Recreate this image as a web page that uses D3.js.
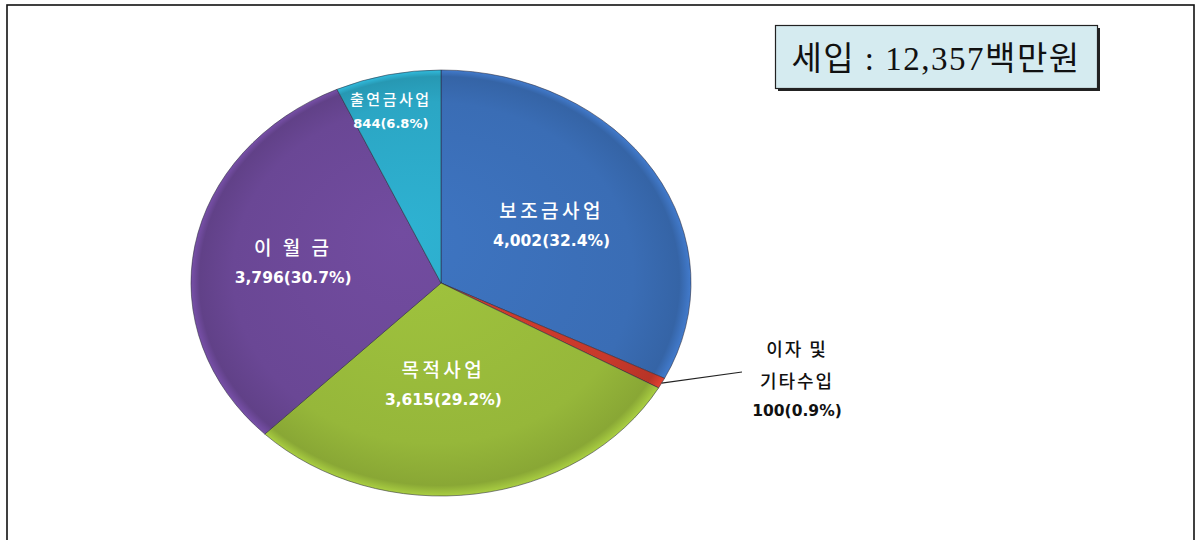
<!DOCTYPE html>
<html><head><meta charset="utf-8">
<script src="https://cdn.jsdelivr.net/npm/d3@7"></script>
<style>
html,body{margin:0;padding:0;background:#fff;}
svg{display:block;}
</style></head>
<body>
<svg id="chart" width="1195" height="540"></svg>
<script>
// ---- data ----
const categories = ["보조금사업", "이자 및 기타수입", "목적사업", "이 월 금", "출연금사업"];
const values = [4002, 100, 3615, 3796, 844];
const percents = ["32.4%", "0.9%", "29.2%", "30.7%", "6.8%"];
const colors = ["#3a6db5", "#c8392b", "#96b73a", "#6a4795", "#2ba6c4"];
const totalLabel = "세입 : 12,357백만원";

const svg = d3.select("#chart");

// outer frame
svg.append("rect").attr("x", 7).attr("y", 5).attr("width", 1187).attr("height", 540)
  .attr("fill", "none").attr("stroke", "#111").attr("stroke-width", 1.6);

const cx = 441, cy = 283, rx = 250, ry = 213;
const fmt = d3.format(",");

const pie = d3.pie().sort(null).value(d => d.v).startAngle(0).endAngle(2 * Math.PI);
const data = categories.map((c, i) => ({ c, v: values[i], p: percents[i], col: colors[i] }));
const arcs = pie(data);
const arc = d3.arc().innerRadius(0).outerRadius(rx);

const defs = svg.append("defs");
arcs.forEach((a, i) => {
  const g = defs.append("radialGradient").attr("id", "g" + i)
    .attr("gradientUnits", "userSpaceOnUse").attr("cx", 0).attr("cy", 0).attr("r", rx)
    .attr("fx", -40).attr("fy", -60);
  const base = d3.color(a.data.col);
  g.append("stop").attr("offset", "0%").attr("stop-color", base.brighter(0.2));
  g.append("stop").attr("offset", "80%").attr("stop-color", base);
  g.append("stop").attr("offset", "96%").attr("stop-color", base.darker(0.25));
  g.append("stop").attr("offset", "100%").attr("stop-color", base.brighter(0.35));
});

const pieG = svg.append("g").attr("transform", `translate(${cx},${cy}) scale(1,${ry / rx})`);
pieG.selectAll("path").data(arcs).join("path")
  .attr("d", arc)
  .attr("fill", (d, i) => `url(#g${i})`)
  .attr("stroke", "#2a2a3a")
  .attr("stroke-opacity", 0.55)
  .attr("stroke-width", 1)
  .attr("vector-effect", "non-scaling-stroke");

// label placement helpers (fraction of radius, pixel nudges)
const labelPos = [
  { f: 0.52, dx: 0, dy: 0, big: true },
  null,
  { f: 0.48, dx: -14, dy: 0, big: true },
  { f: 0.56, dx: -10, dy: 0, big: true },
  { f: 0.83, dx: -6, dy: 0, big: false }
];

function pt(angle, f) {
  return [cx + rx * f * Math.sin(angle), cy - ry * f * Math.cos(angle)];
}

arcs.forEach((a, i) => {
  const lp = labelPos[i];
  if (!lp) return;
  const mid = (a.startAngle + a.endAngle) / 2;
  const [x, y] = pt(mid, lp.f);
  const X = x + lp.dx, Y = y + lp.dy;
  const g = svg.append("g").attr("transform", `translate(${X},${Y})`);
  g.append("text").attr("x", 0).attr("y", lp.big ? -7 : -5)
    .attr("text-anchor", "middle")
    .attr("font-family", "'Noto Sans CJK KR', sans-serif")
    .attr("font-size", lp.big ? 19 : 15)
    .attr("font-weight", 500)
    .attr("letter-spacing", lp.big ? 3.5 : 2.5)
    .attr("fill", "#fff")
    .text(a.data.c);
  g.append("text").attr("x", 0).attr("y", lp.big ? 21 : 18)
    .attr("text-anchor", "middle")
    .attr("font-family", "'DejaVu Sans', sans-serif")
    .attr("font-size", lp.big ? 15.5 : 13)
    .attr("font-weight", 700)
    .attr("fill", "#fff")
    .text(`${fmt(a.data.v)}(${a.data.p})`);
});

// external label for small slice
{
  const a = arcs[1];
  const mid = (a.startAngle + a.endAngle) / 2;
  const [x0, y0] = pt(mid, 1.0);
  svg.append("line").attr("x1", x0).attr("y1", y0).attr("x2", 742).attr("y2", 372)
    .attr("stroke", "#222").attr("stroke-width", 1.2);
  const parts = a.data.c.split(" 기");
  const t = svg.append("g").attr("transform", "translate(797,0)");
  t.append("text").attr("x", 0).attr("y", 356).attr("text-anchor", "middle")
    .attr("font-family", "'Noto Sans CJK KR', sans-serif").attr("font-size", 18)
    .attr("font-weight", 500).attr("letter-spacing", 2).attr("fill", "#111").text(parts[0]);
  t.append("text").attr("x", 0).attr("y", 388).attr("text-anchor", "middle")
    .attr("font-family", "'Noto Sans CJK KR', sans-serif").attr("font-size", 18)
    .attr("font-weight", 500).attr("letter-spacing", 2).attr("fill", "#111").text("기" + parts[1]);
  t.append("text").attr("x", 0).attr("y", 416).attr("text-anchor", "middle")
    .attr("font-family", "'DejaVu Sans', sans-serif").attr("font-size", 15.5)
    .attr("font-weight", 700).attr("fill", "#111").text(`${fmt(a.data.v)}(${a.data.p})`);
}

// total box
svg.append("rect").attr("x", 778).attr("y", 28).attr("width", 322).attr("height", 63).attr("fill", "#222");
svg.append("rect").attr("x", 775.5).attr("y", 25.5).attr("width", 322).attr("height", 63)
  .attr("fill", "#d5ebf0").attr("stroke", "#222").attr("stroke-width", 1.2);
svg.append("text").attr("x", 936).attr("y", 70).attr("text-anchor", "middle")
  .attr("font-family", "'Liberation Serif', 'Noto Sans CJK KR', serif")
  .attr("font-size", 33).attr("letter-spacing", 1.5).attr("fill", "#111")
  .text(totalLabel);
</script>
</body></html>
